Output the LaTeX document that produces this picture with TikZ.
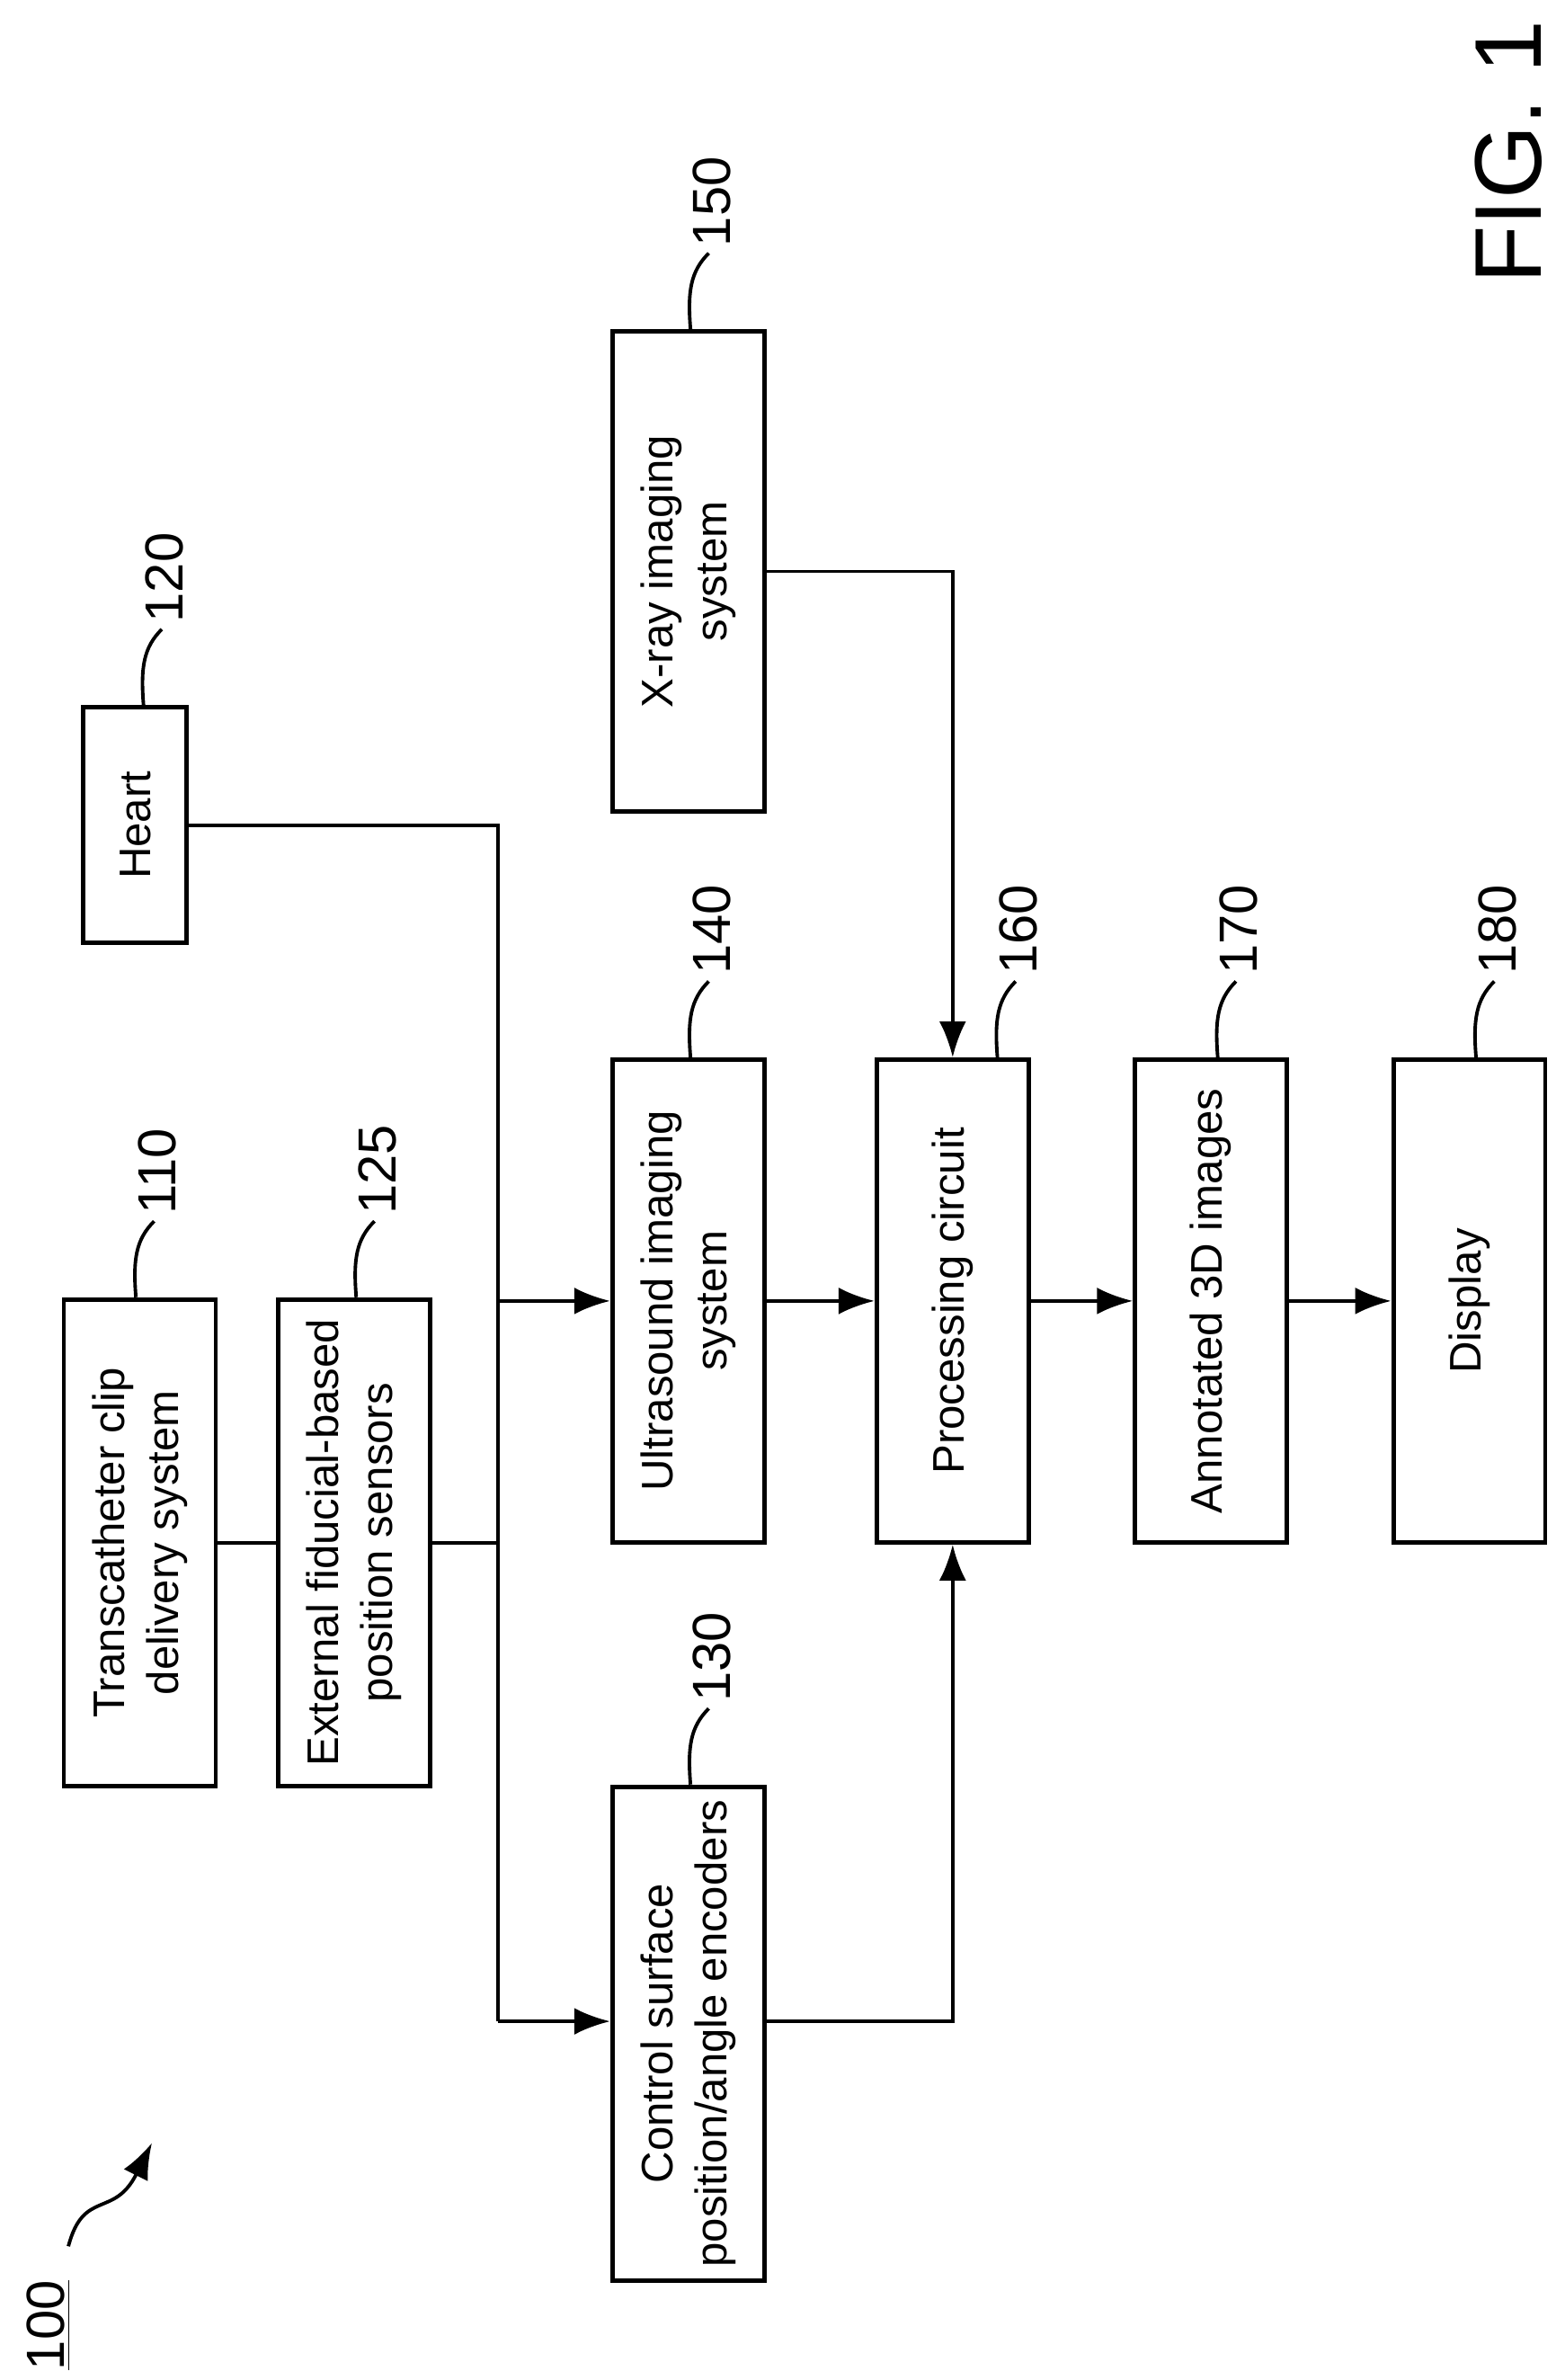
\documentclass[tikz,border=0pt]{standalone}
\usepackage{fontspec}
\setmainfont{Liberation Sans}
\usetikzlibrary{arrows.meta,calc}
\tikzset{
    blk/.style={draw, line width=1.4pt, rotate=90, align=center, font=\fontsize{14}{17}\selectfont, inner sep=0pt},
    num/.style={rotate=90, font=\fontsize{17}{20}\selectfont, inner sep=1pt},
    wire/.style={line width=1.1pt},
    arr/.style={wire, -{Latex[length=4mm,width=3mm]}}
}
% rotated boxes: .north = left side, .south = right side, .east = top, .west = bottom
\newcommand{\refnum}[3]{% node, number, offset from right edge
    \draw[wire] ($(#1.south east)+(#3,0)$) .. controls +(-2,-25) and +(-12,12) .. ++(12,-50) coordinate (#1-lead);
    \node[num, anchor=west] at ($(#1-lead)+(2,-2)$) {#2};
}
\begin{document}
\begin{tikzpicture}[x=0.0169cm, y=-0.0169cm]
\useasboundingbox (0,0) rectangle (1030,1566);
% boxes (centers in reference pixels)
\path (92,1015) node[blk, minimum width=5.41cm, minimum height=1.69cm] (tcd) {Transcatheter clip\\delivery system};
\path (233,1015) node[blk, minimum width=5.41cm, minimum height=1.69cm] (efs) {External fiducial-based\\position sensors};
\path (89,543) node[blk, minimum width=2.62cm, minimum height=1.15cm] (hrt) {Heart};
\path (453,1338) node[blk, minimum width=5.49cm, minimum height=1.69cm] (cse) {Control surface\\position/angle encoders};
\path (453,856) node[blk, minimum width=5.37cm, minimum height=1.69cm] (us) {Ultrasound imaging\\system};
\path (453,376) node[blk, minimum width=5.34cm, minimum height=1.69cm] (xr) {X-ray imaging\\system};
\path (627,856) node[blk, minimum width=5.37cm, minimum height=1.69cm] (pc) {Processing circuit};
\path (797,856) node[blk, minimum width=5.37cm, minimum height=1.69cm] (ann) {Annotated 3D images};
\path (967,856) node[blk, minimum width=5.37cm, minimum height=1.69cm] (dsp) {Display};
% connectors
\coordinate (bus-top) at (328,543);
\coordinate (bus-bot) at (328,1330);
\draw[wire] (tcd.south) -- (efs.north);
\draw[wire] (efs.south) -- (efs.south -| bus-top);
\draw[wire] (hrt.south) -- (bus-top) -- (bus-bot);
\draw[arr] (us.north -| bus-top) -- (us.north);
\draw[arr] (bus-bot) -- (bus-bot -| cse.north);
\draw[arr] (us.south) -- (pc.north);
\draw[arr] (cse.south |- bus-bot) -| (pc.west);
\draw[arr] (xr.south) -| (pc.east);
\draw[arr] (pc.south) -- (ann.north);
\draw[arr] (ann.south) -- (dsp.north);
% reference numerals
\refnum{tcd}{110}{-54}
\refnum{efs}{125}{-50}
\refnum{hrt}{120}{-30}
\refnum{cse}{130}{-50}
\refnum{us}{140}{-50}
\refnum{xr}{150}{-50}
\refnum{pc}{160}{-22}
\refnum{ann}{170}{-47}
\refnum{dsp}{180}{-47}
% figure number
\node[rotate=90, font=\fontsize{30}{34}\selectfont] (fig) at (993,100) {FIG. 1};
\node[num, anchor=center] (sys) at (32,1530) {\underline{100}};
\draw[arr] (45,1478) .. controls (55,1440) and (75,1460) .. (100,1410);
\end{tikzpicture}
\end{document}
